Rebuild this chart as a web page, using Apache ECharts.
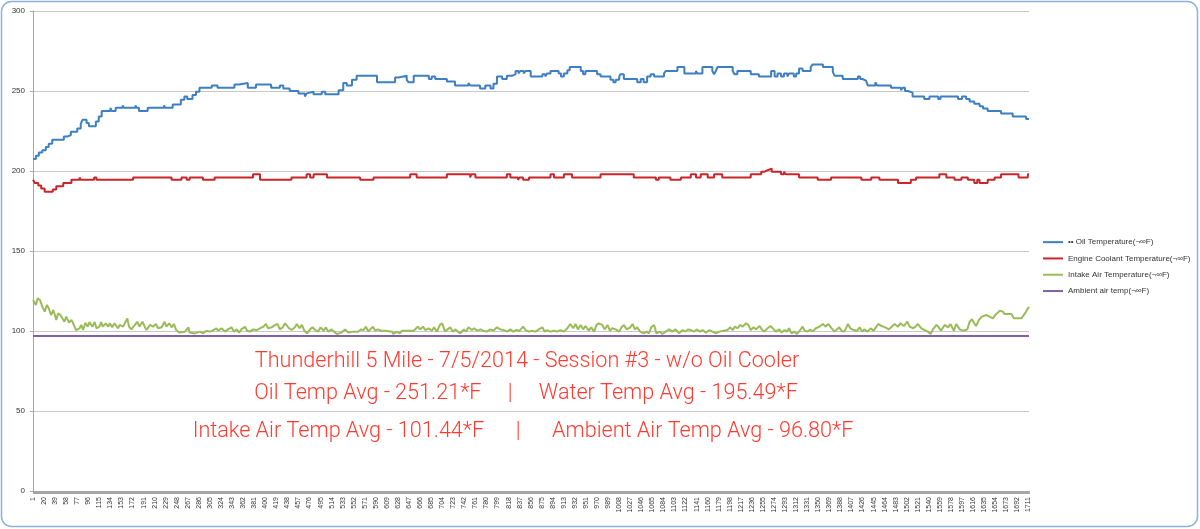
<!DOCTYPE html>
<html>
<head>
<meta charset="utf-8">
<style>
html,body{margin:0;padding:0;background:#fff;}
#chart{width:1200px;height:529px;}
</style>
<script src="https://cdn.jsdelivr.net/npm/echarts@6/dist/echarts.min.js"></script>
</head>
<body>
<div id="chart"></div>
<script>
// ---- data (sample index 0-based, value in °F) ----
const sampleCount = 1712;
const seriesNames = ['•• Oil Temperature(¬∞F)', 'Engine Coolant Temperature(¬∞F)', 'Intake Air Temperature(¬∞F)', 'Ambient air temp(¬∞F)'];
const yTicks = [0, 50, 100, 150, 200, 250, 300];
const titleLines = [
  'Thunderhill 5 Mile - 7/5/2014 - Session #3 - w/o Oil Cooler',
  'Oil Temp Avg - 251.21*F     |     Water Temp Avg - 195.49*F',
  'Intake Air Temp Avg - 101.44*F      |      Ambient Air Temp Avg - 96.80*F'
];

const oilTemp = [
[0,207.5],[5,209.5],[10,211.5],[16,213],[22,215],[27,217],[33,219.5],[53,221.5],[59,222.5],[65,224.5],[76,226.5],[82,229.5],[85,232],[92,230],[96,228],[108,231],[113,234],[118,237.5],[133,239.5],[135,237.5],[142,239.5],[154,241],[156,239.5],[176,241],[178,239.5],[182,237.5],[190,238.5],[192,237.5],[197,239.5],[225,241],[227,239.5],[240,241.5],[254,244.5],[260,246.5],[265,245],[274,247.5],[280,249.5],[286,252],[307,253.5],[317,252],[346,254],[354,255],[369,252],[383,254],[409,252],
[424,253.5],[430,251.5],[441,250],[456,248.5],[467,246.5],[470,248.5],[473,249.5],[482,248],[496,249.5],[502,248],[525,250.5],[533,255],[539,253.5],[548,257],[556,259.5],[591,255.5],[622,258.5],[628,259.5],[642,257],[645,255.5],[654,259.5],[680,257.5],[685,259],[691,257.5],[697,258.5],[700,257.5],[711,256],[725,253.5],[748,255],[751,253.5],[768,251.5],[777,253.5],[786,251.5],[791,254.5],[797,259],[806,257.5],[814,259.5],[823,260.5],[829,262.5],[834,261],[837,262.5],[843,261],[846,262.5],
[855,259],[875,260.5],[880,259],[883,261],[889,262.5],[903,261],[907,259],[912,261],[918,263],[922,265],[941,262.5],[945,260.5],[949,262.5],[969,260.5],[975,259],[992,257],[997,255.5],[1001,257],[1007,259],[1009,260.5],[1015,257.5],[1038,255.5],[1044,257.5],[1049,255.5],[1055,259],[1061,260.5],[1067,259],[1084,261],[1087,262.5],[1107,265],[1119,261],[1139,262.5],[1141,261],[1150,265],[1167,262.5],[1170,260.5],[1173,262.5],[1176,265],[1202,262.5],[1205,260.5],[1210,262.5],[1233,260.5],[1247,259],[1268,262.5],[1274,259],[1279,261],[1285,259],[1290,261],
[1296,259],[1299,261],[1307,259],[1311,261],[1316,264],[1322,262.5],[1336,265],[1339,266.5],[1357,265],[1374,262],[1377,259.5],[1391,257.5],[1417,259],[1421,257.5],[1425,256.5],[1431,255.5],[1434,253.5],[1447,255.5],[1450,253.5],[1474,252],[1491,250.5],[1494,252],[1498,250],[1503,249],[1511,246.5],[1531,245],[1540,246.5],[1555,245],[1559,246.5],[1589,245],[1596,246.5],[1603,245],[1609,243.5],[1617,242],[1626,240.5],[1632,239],[1640,237.5],[1663,236],[1683,234],[1706,232.5],[1711,232.5]
];

const coolantTemp = [
[0,194.5],[3,192.5],[9,191],[14,189],[20,187],[34,188.5],[40,190.5],[52,192.5],[66,194.5],[80,196],[82,194.5],[105,196],[109,194.5],[172,196],[238,194.5],[255,196],[264,194.5],[269,196],[292,194.5],[312,196],[378,198],[390,194.5],
[444,196],[470,198],[476,196],[482,198],[505,196],[562,194.5],[585,196],[639,195],[641,196],[648,198],[659,196],[704,195],[706,196],[711,198],[751,196],[753,198],[760,196],[814,198],[820,196],[833,194.5],[836,196],[842,194.5],[852,196],
[889,198],[895,196],[912,198],[926,196],[975,198],[1032,196],[1070,194.5],[1075,196],[1095,194.5],[1113,196],[1130,198],[1139,196],[1147,198],[1159,196],[1170,198],[1184,196],[1233,198],[1251,199.5],[1256,200.5],[1262,201.5],[1269,199.5],[1285,198],[1290,199.5],[1293,198],
[1316,196],[1348,194.5],[1371,196],[1423,194.5],[1440,196],[1454,194.5],[1486,192.5],[1508,194.5],[1517,196],[1557,198],[1569,196],[1583,194.5],[1595,196],[1606,194.5],[1617,192.5],[1622,194.5],[1626,192.5],[1640,194.5],[1652,196],[1663,198],[1693,196],[1709,198],[1711,198]
];

const intakeTemp = [
[0,119.4],[3,120.4],[5,116.3],[8,120.4],[12,119.4],[16,115.2],[20,112.1],[24,116.3],[27,114.2],[31,110.0],[35,113.1],[40,106.9],[43,111.0],[47,110.0],[50,111.0],[54,105.8],[57,109.0],[62,105.2],[66,106.9],[69,104.8],[74,100.6],[80,101.7],[83,103.8],[86,100.6],[90,105.2],[94,102.7],[97,105.6],[102,102.7],[106,105.6],[109,101.7],[114,102.7],[117,105.6],[120,102.7],[125,104.8],[129,102.7],[132,104.8],[136,102.3],[140,104.8],[146,101.7],[149,103.8],[155,102.7],[159,105.8],[162,107.9],[165,102.7],[169,101.0],[175,103.8],[179,105.8],[183,102.7],[188,105.8],[192,102.7],[195,100.6],[201,103.8],[206,102.7],[211,104.4],[215,101.7],[221,102.3],[226,105.8],[229,102.7],[234,104.8],[238,102.3],[242,104.4],[246,100.6],[251,99.0],[261,99.6],[267,102.3],[269,99.0],[278,98.5],[287,99.6],[292,98.5],[298,100.2],[304,99.6],[310,100.6],[315,101.7],[318,100.2],[324,101.7],[330,99.6],[335,101.0],[341,102.3],[345,99.6],[350,101.0],[354,99.0],[358,101.0],[364,102.7],[368,100.2],[373,99.6],[378,101.0],[384,100.6],[390,101.7],[396,102.7],[400,104.4],[404,101.7],[410,102.3],[416,103.8],[420,104.4],[424,101.0],[429,102.3],[433,104.8],[436,105.8],[440,101.7],[444,100.6],[450,102.3],[453,104.4],[458,101.7],[462,103.8],[466,100.2],[471,98.5],[476,101.0],[480,102.3],[485,100.6],[490,99.6],[494,102.3],[499,100.2],[503,102.3],[507,99.6],[513,101.0],[517,99.6],[522,98.1],[530,99.0],[536,101.0],[542,99.0],[550,99.6],[559,99.6],[563,101.0],[568,100.6],[572,102.7],[576,99.6],
[579,101.0],[584,102.7],[588,100.2],[592,101.0],[598,100.2],[605,100.2],[617,99.6],[619,98.1],[625,99.6],[630,98.5],[634,100.2],[654,100.2],[661,102.7],[665,101.0],[670,102.7],[674,100.6],[680,101.7],[685,100.2],[689,102.3],[694,99.6],[699,103.8],[703,104.8],[708,99.6],[712,101.0],[717,102.3],[721,99.6],[726,101.0],[730,99.6],[734,98.5],[740,101.0],[744,99.6],[748,102.3],[754,100.6],[758,101.7],[763,100.2],[769,101.0],[773,100.2],[779,99.6],[786,101.0],[791,100.2],[797,102.3],[803,101.0],[809,100.6],[814,99.6],[820,101.0],[825,99.6],[830,100.6],[836,100.2],[842,102.7],[846,100.6],[852,99.6],[857,100.2],[863,99.6],[869,101.0],[875,102.3],[879,99.6],[883,100.6],[889,99.6],[895,100.2],[900,99.6],[906,100.6],[912,99.6],[918,101.7],[923,104.4],[928,101.7],[932,104.4],[936,101.0],[941,103.8],[945,101.0],[949,103.1],[955,100.2],[959,102.3],[964,99.6],[968,103.8],[972,104.8],[978,103.8],[982,101.0],[987,103.8],[991,100.2],[995,101.7],[1001,101.0],[1007,99.6],[1011,102.3],[1015,103.8],[1020,101.0],[1026,102.3],[1030,104.4],[1034,101.0],[1038,102.3],[1043,99.6],[1049,98.5],[1054,99.6],[1058,98.5],[1062,102.3],[1067,103.8],[1071,98.5],[1077,99.6],[1081,98.1],[1087,99.6],[1093,101.0],[1098,99.6],[1104,101.0],[1110,98.5],[1116,100.6],[1121,99.6],[1125,101.0],
[1130,100.6],[1136,99.6],[1140,101.0],[1146,99.6],[1150,100.6],[1156,99.0],[1162,100.6],[1167,99.6],[1173,98.5],[1179,99.6],[1187,100.2],[1193,100.6],[1198,102.3],[1202,100.6],[1206,102.7],[1210,101.7],[1215,103.8],[1219,102.7],[1225,104.8],[1229,103.8],[1233,100.6],[1238,102.3],[1242,101.0],[1248,103.1],[1252,101.0],[1256,99.6],[1262,101.7],[1267,103.1],[1271,101.7],[1276,99.6],[1282,101.0],[1286,99.0],[1291,100.6],[1295,99.6],[1299,101.7],[1303,98.5],[1308,99.6],[1312,98.1],[1316,99.6],[1322,102.7],[1326,100.2],[1331,99.6],[1335,101.0],[1339,99.6],[1345,101.7],[1351,102.7],[1357,104.4],[1362,102.7],[1366,104.4],[1372,101.7],[1377,99.6],[1381,101.0],[1385,102.3],[1389,100.2],[1394,99.6],[1400,104.4],[1404,101.7],[1410,100.6],[1416,100.2],[1420,102.3],[1424,99.6],[1428,101.0],[1434,99.6],[1439,101.7],[1444,100.2],[1448,102.3],[1452,104.4],[1458,103.1],[1464,102.3],[1470,101.0],[1475,102.7],[1480,104.4],[1486,102.7],[1490,104.8],[1496,103.1],[1502,105.8],[1506,102.7],[1512,101.7],[1516,102.7],[1520,104.4],[1526,101.7],[1532,100.6],[1537,99.6],[1542,98.1],[1546,101.0],[1552,103.8],[1556,102.3],[1560,100.2],[1566,103.8],[1572,102.3],[1576,104.4],[1582,100.2],[1586,104.4],[1592,101.0],[1598,100.2],[1605,101.0],[1609,105.8],[1613,107.3],[1617,104.8],[1620,103.1],[1625,106.9],[1630,109.0],[1638,110.0],[1643,109.0],[1649,107.9],[1653,110.0],[1661,112.7],[1666,112.1],[1669,110.6],[1672,111.5],[1681,110.6],[1685,107.9],[1698,107.9],[1704,111.0],[1708,113.5],[1711,115.2]
];

const ambientTemp = [[0,96.8],[1711,96.8]];

// ---- chart ----
const categories = [];
for (let i = 1; i <= sampleCount; i++) categories.push(String(i));

const colors = ['#3d7fc1', '#c9252b', '#9bbb59', '#7f5fa6'];
const chart = echarts.init(document.getElementById('chart'), null, {renderer: 'canvas'});

function lineSeries(name, data, color, step) {
  return {
    name: name, type: 'line', data: data, step: step || false,
    symbol: 'none', animation: false, silent: true,
    lineStyle: {color: color, width: 2}, itemStyle: {color: color}
  };
}

const textColor = '#ff3b30';
const titleFont = '300 21.6px Roboto, "Liberation Sans", sans-serif';
const titleXs = [527, 526, 523];
const titleTops = [351, 383, 421];

function titleText(i) {
  return {type: 'text', x: titleXs[i], y: titleTops[i], silent: true,
    style: {text: titleLines[i], font: titleFont, fill: textColor, textAlign: 'center', textVerticalAlign: 'top'}};
}

chart.setOption({
  animation: false,
  backgroundColor: '#ffffff',
  grid: {left: 33, right: 171, top: 11, bottom: 38, containLabel: false},
  legend: {
    orient: 'vertical', left: 1038, top: 233,
    icon: 'rect', itemWidth: 20, itemHeight: 2, itemGap: 8,
    textStyle: {fontSize: 8, color: '#333', lineHeight: 8.3, fontFamily: '"Liberation Sans", Arial, sans-serif'},
    data: seriesNames
  },
  xAxis: {
    type: 'category', data: categories, boundaryGap: false,
    axisLine: {lineStyle: {color: '#a6a6a6', width: 1}},
    axisTick: {show: true, interval: 0, length: 3, lineStyle: {color: '#a6a6a6'}},
    axisLabel: {interval: 18, rotate: 90, fontSize: 7, color: '#333', margin: 6, fontFamily: '"Liberation Sans", Arial, sans-serif'},
    splitLine: {show: false}
  },
  yAxis: {
    type: 'value', min: yTicks[0], max: yTicks[yTicks.length - 1], interval: 50,
    axisLine: {show: true, lineStyle: {color: '#a6a6a6'}},
    axisTick: {show: true, length: 3, lineStyle: {color: '#a6a6a6'}},
    axisLabel: {fontSize: 8, color: '#333', margin: 8, fontFamily: '"Liberation Sans", Arial, sans-serif'},
    splitLine: {show: true, lineStyle: {color: '#c8c8c8', width: 1}}
  },
  series: [
    lineSeries(seriesNames[0], oilTemp, colors[0], 'end'),
    lineSeries(seriesNames[1], coolantTemp, colors[1], 'end'),
    lineSeries(seriesNames[2], intakeTemp, colors[2], false),
    lineSeries(seriesNames[3], ambientTemp, colors[3], false)
  ],
  graphic: [
    {type: 'rect', silent: true, shape: {x: 1.5, y: 1.5, width: 1196, height: 525, r: 10},
     style: {fill: 'none', stroke: '#8fb0de', lineWidth: 1.5}},
    titleText(0), titleText(1), titleText(2)
  ]
});
</script>
</body>
</html>
